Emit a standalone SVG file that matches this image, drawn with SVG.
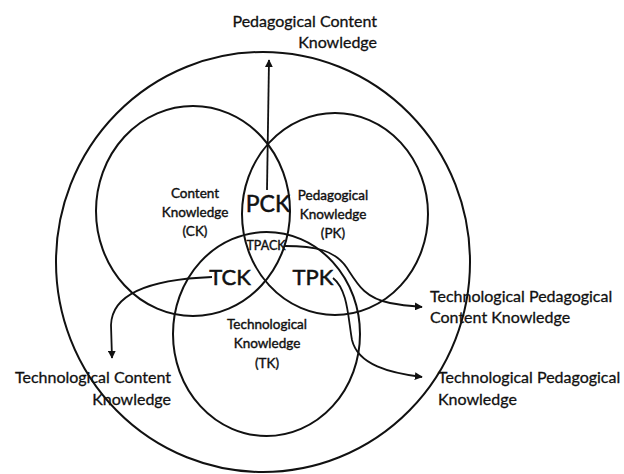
<svg xmlns="http://www.w3.org/2000/svg" width="624" height="474" viewBox="0 0 624 474">
  <style>
    .ring { fill: none; stroke: #111; stroke-width: 2; }
    .conn { fill: none; stroke: #111; stroke-width: 1.8; }
    text { font-family: Lato, "Liberation Sans", sans-serif; fill: #111; stroke: #111; stroke-width: 0.3; }
    .lbl { font-size: 16px; }
    .inner { font-size: 13.5px; text-anchor: middle; stroke-width: 0.4; }
    .big { font-size: 22px; text-anchor: middle; stroke-width: 0.5; }
    .small { font-size: 12.5px; text-anchor: middle; stroke-width: 0.4; }
  </style>
  <defs>
    <marker id="arrow" viewBox="0 0 10 10" refX="9" refY="5" markerWidth="8" markerHeight="8" markerUnits="userSpaceOnUse" orient="auto">
      <path d="M0,0 L10,5 L0,10 z" fill="#111"/>
    </marker>
  </defs>
  <rect width="624" height="474" fill="#fff"/>

  <g id="outer">
    <ellipse class="ring" cx="263" cy="262" rx="207" ry="210"/>
  </g>
  <g id="ck">
    <ellipse class="ring" cx="193" cy="211" rx="97" ry="105"/>
    <text class="inner" x="195" y="198">Content</text>
    <text class="inner" x="195" y="217">Knowledge</text>
    <text class="inner" x="195" y="236">(CK)</text>
  </g>
  <g id="pk">
    <ellipse class="ring" cx="335" cy="214" rx="93" ry="101"/>
    <text class="inner" x="333" y="200">Pedagogical</text>
    <text class="inner" x="333" y="219">Knowledge</text>
    <text class="inner" x="333" y="238">(PK)</text>
  </g>
  <g id="tk">
    <ellipse class="ring" cx="266.5" cy="334" rx="93.5" ry="102"/>
    <text class="inner" x="267" y="329">Technological</text>
    <text class="inner" x="267" y="348">Knowledge</text>
    <text class="inner" x="267" y="368">(TK)</text>
  </g>
  <g id="pck">
    <text class="big" x="268" y="212" style="font-size:23px">PCK</text>
  </g>
  <g id="tpack">
    <text class="small" x="266" y="250">TPACK</text>
  </g>
  <g id="tck">
    <text class="big" x="230" y="285">TCK</text>
  </g>
  <g id="tpk">
    <text class="big" x="313" y="285">TPK</text>
  </g>

  <g id="connectors">
    <path class="conn" d="M267,190 L269,60" marker-end="url(#arrow)"/>
    <path class="conn" d="M212,277 C160,279 112,290 111,325 L112,358" marker-end="url(#arrow)"/>
    <path class="conn" d="M285,246 C315,246 335,250 347,268 C358,285 365,298 390,303 C400,305 410,306 422,307" marker-end="url(#arrow)"/>
    <path class="conn" d="M333,278 C348,290 348,318 352,340 C358,365 390,373 422,377" marker-end="url(#arrow)"/>
  </g>

  <g id="label-pck">
    <text class="lbl" x="377" y="27" text-anchor="end">Pedagogical Content</text>
    <text class="lbl" x="377" y="48" text-anchor="end">Knowledge</text>
  </g>
  <g id="label-tck">
    <text class="lbl" x="171" y="383" text-anchor="end">Technological Content</text>
    <text class="lbl" x="171" y="405" text-anchor="end">Knowledge</text>
  </g>
  <g id="label-tpack">
    <text class="lbl" x="430" y="302">Technological Pedagogical</text>
    <text class="lbl" x="430" y="323">Content Knowledge</text>
  </g>
  <g id="label-tpk">
    <text class="lbl" x="438" y="383">Technological Pedagogical</text>
    <text class="lbl" x="438" y="405">Knowledge</text>
  </g>
</svg>
